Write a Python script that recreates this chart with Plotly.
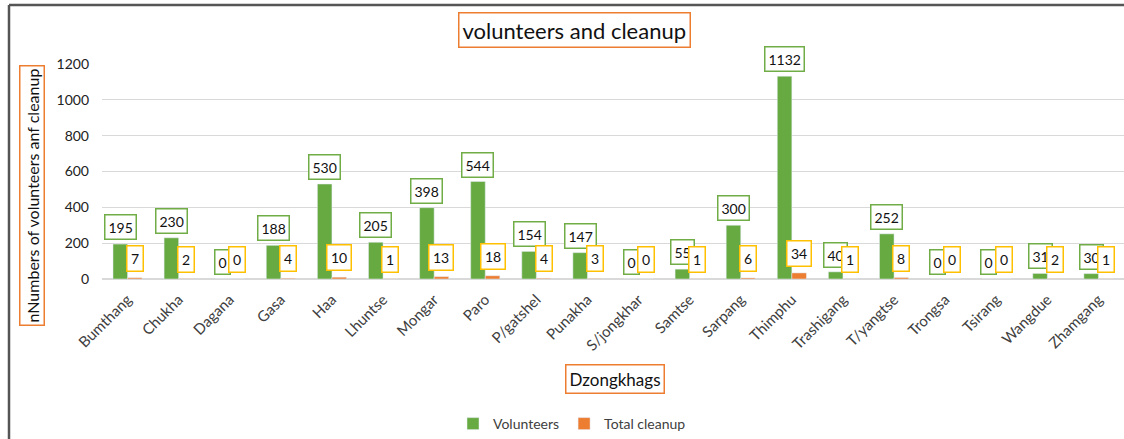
import plotly.graph_objects as go

categories = ["Bumthang", "Chukha", "Dagana", "Gasa", "Haa", "Lhuntse", "Mongar", "Paro",
              "P/gatshel", "Punakha", "S/jongkhar", "Samtse", "Sarpang", "Thimphu",
              "Trashigang", "T/yangtse", "Trongsa", "Tsirang", "Wangdue", "Zhamgang"]
volunteers = [195, 230, 0, 188, 530, 205, 398, 544, 154, 147, 0, 55, 300, 1132, 40, 252, 0, 0, 31, 30]
cleanup = [7, 2, 0, 4, 10, 1, 13, 18, 4, 3, 0, 1, 6, 34, 1, 8, 0, 0, 2, 1]
y_ticks = [0, 200, 400, 600, 800, 1000, 1200]

GREEN = "#68aa42"
ORANGE = "#ed7d31"
FONT = "Lato"

W, H = 1124, 439
L, R, T, B = 102, 0, 64, 160
pw, ph = W - L - R, H - T - B


def px_x(x):
    return (x - L) / pw


def px_y(y):
    return (H - B - y) / ph


fig = go.Figure()
fig.add_trace(go.Bar(x=categories, y=volunteers, name="Volunteers", marker_color=GREEN))
fig.add_trace(go.Bar(x=categories, y=cleanup, name="Total cleanup", marker_color=ORANGE))

annotations = []
bar_off = 7.3
for c, v in zip(categories, volunteers):
    annotations.append(dict(x=c, y=v, xref="x", yref="y", text=str(v), showarrow=False,
                            xshift=-bar_off, yshift=4, yanchor="bottom", xanchor="center",
                            font=dict(family=FONT, size=14, color="#111111"),
                            bgcolor="white", bordercolor="#70ad47", borderwidth=1.5, borderpad=3))
for c, v in zip(categories, cleanup):
    annotations.append(dict(x=c, y=v, xref="x", yref="y", text=str(v), showarrow=False,
                            xshift=bar_off, yshift=6, yanchor="bottom", xanchor="center",
                            font=dict(family=FONT, size=14, color="#111111"),
                            bgcolor="white", bordercolor="#ffc000", borderwidth=1.5, borderpad=3.5))

# title, axis titles
annotations.append(dict(x=px_x(574), y=px_y(30), xref="paper", yref="paper",
                        xanchor="center", yanchor="middle",
                        text="volunteers and cleanup", showarrow=False,
                        font=dict(family=FONT, size=22, color="#111111"),
                        bgcolor="white", bordercolor=ORANGE, borderwidth=1.5, borderpad=3))
annotations.append(dict(x=px_x(31.5), y=px_y(195.5), xref="paper", yref="paper",
                        xanchor="center", yanchor="middle",
                        text="nNumbers of volunteers anf cleanup", showarrow=False, textangle=-90,
                        font=dict(family=FONT, size=16, color="#111111"),
                        bgcolor="white", bordercolor=ORANGE, borderwidth=1.5, borderpad=2))
annotations.append(dict(x=px_x(615), y=px_y(378.5), xref="paper", yref="paper",
                        xanchor="center", yanchor="middle",
                        text="Dzongkhags", showarrow=False,
                        font=dict(family=FONT, size=17, color="#111111"),
                        bgcolor="white", bordercolor=ORANGE, borderwidth=1.5, borderpad=3))

shapes = [
    dict(type="line", xref="paper", yref="paper", x0=px_x(9), x1=px_x(1130), y0=px_y(5), y1=px_y(5),
         line=dict(color="#555555", width=2.5)),
    dict(type="line", xref="paper", yref="paper", x0=px_x(9), x1=px_x(9), y0=px_y(5), y1=px_y(445),
         line=dict(color="#555555", width=2.5)),
]

fig.update_layout(
    width=W, height=H,
    margin=dict(l=L, r=R, t=T, b=B, autoexpand=False),
    paper_bgcolor="white", plot_bgcolor="white",
    barmode="group", bargap=0.43, bargroupgap=0,
    font=dict(family=FONT, color="#404040"),
    showlegend=True,
    legend=dict(orientation="h", x=px_x(572), y=px_y(424), xanchor="center", yanchor="middle",
                font=dict(family=FONT, size=14, color="#404040"), itemwidth=30),
    annotations=annotations,
    shapes=shapes,
    xaxis=dict(type="category", tickangle=-45, tickfont=dict(family=FONT, size=15, color="#404040"),
               showgrid=False, showline=False, ticks="", ticklabelstandoff=8),
    yaxis=dict(range=[0, 1200], tickvals=y_ticks, tickfont=dict(family=FONT, size=14, color="#222222"),
               showgrid=True, gridcolor="#d9d9d9", gridwidth=1, zeroline=True, zerolinecolor="#d9d9d9",
               showline=False, ticks="", ticklabelstandoff=12),
)

fig.write_html("out.html", config={"displayModeBar": False},
               post_script="document.body.style.margin='0';document.body.style.overflow='hidden';")
